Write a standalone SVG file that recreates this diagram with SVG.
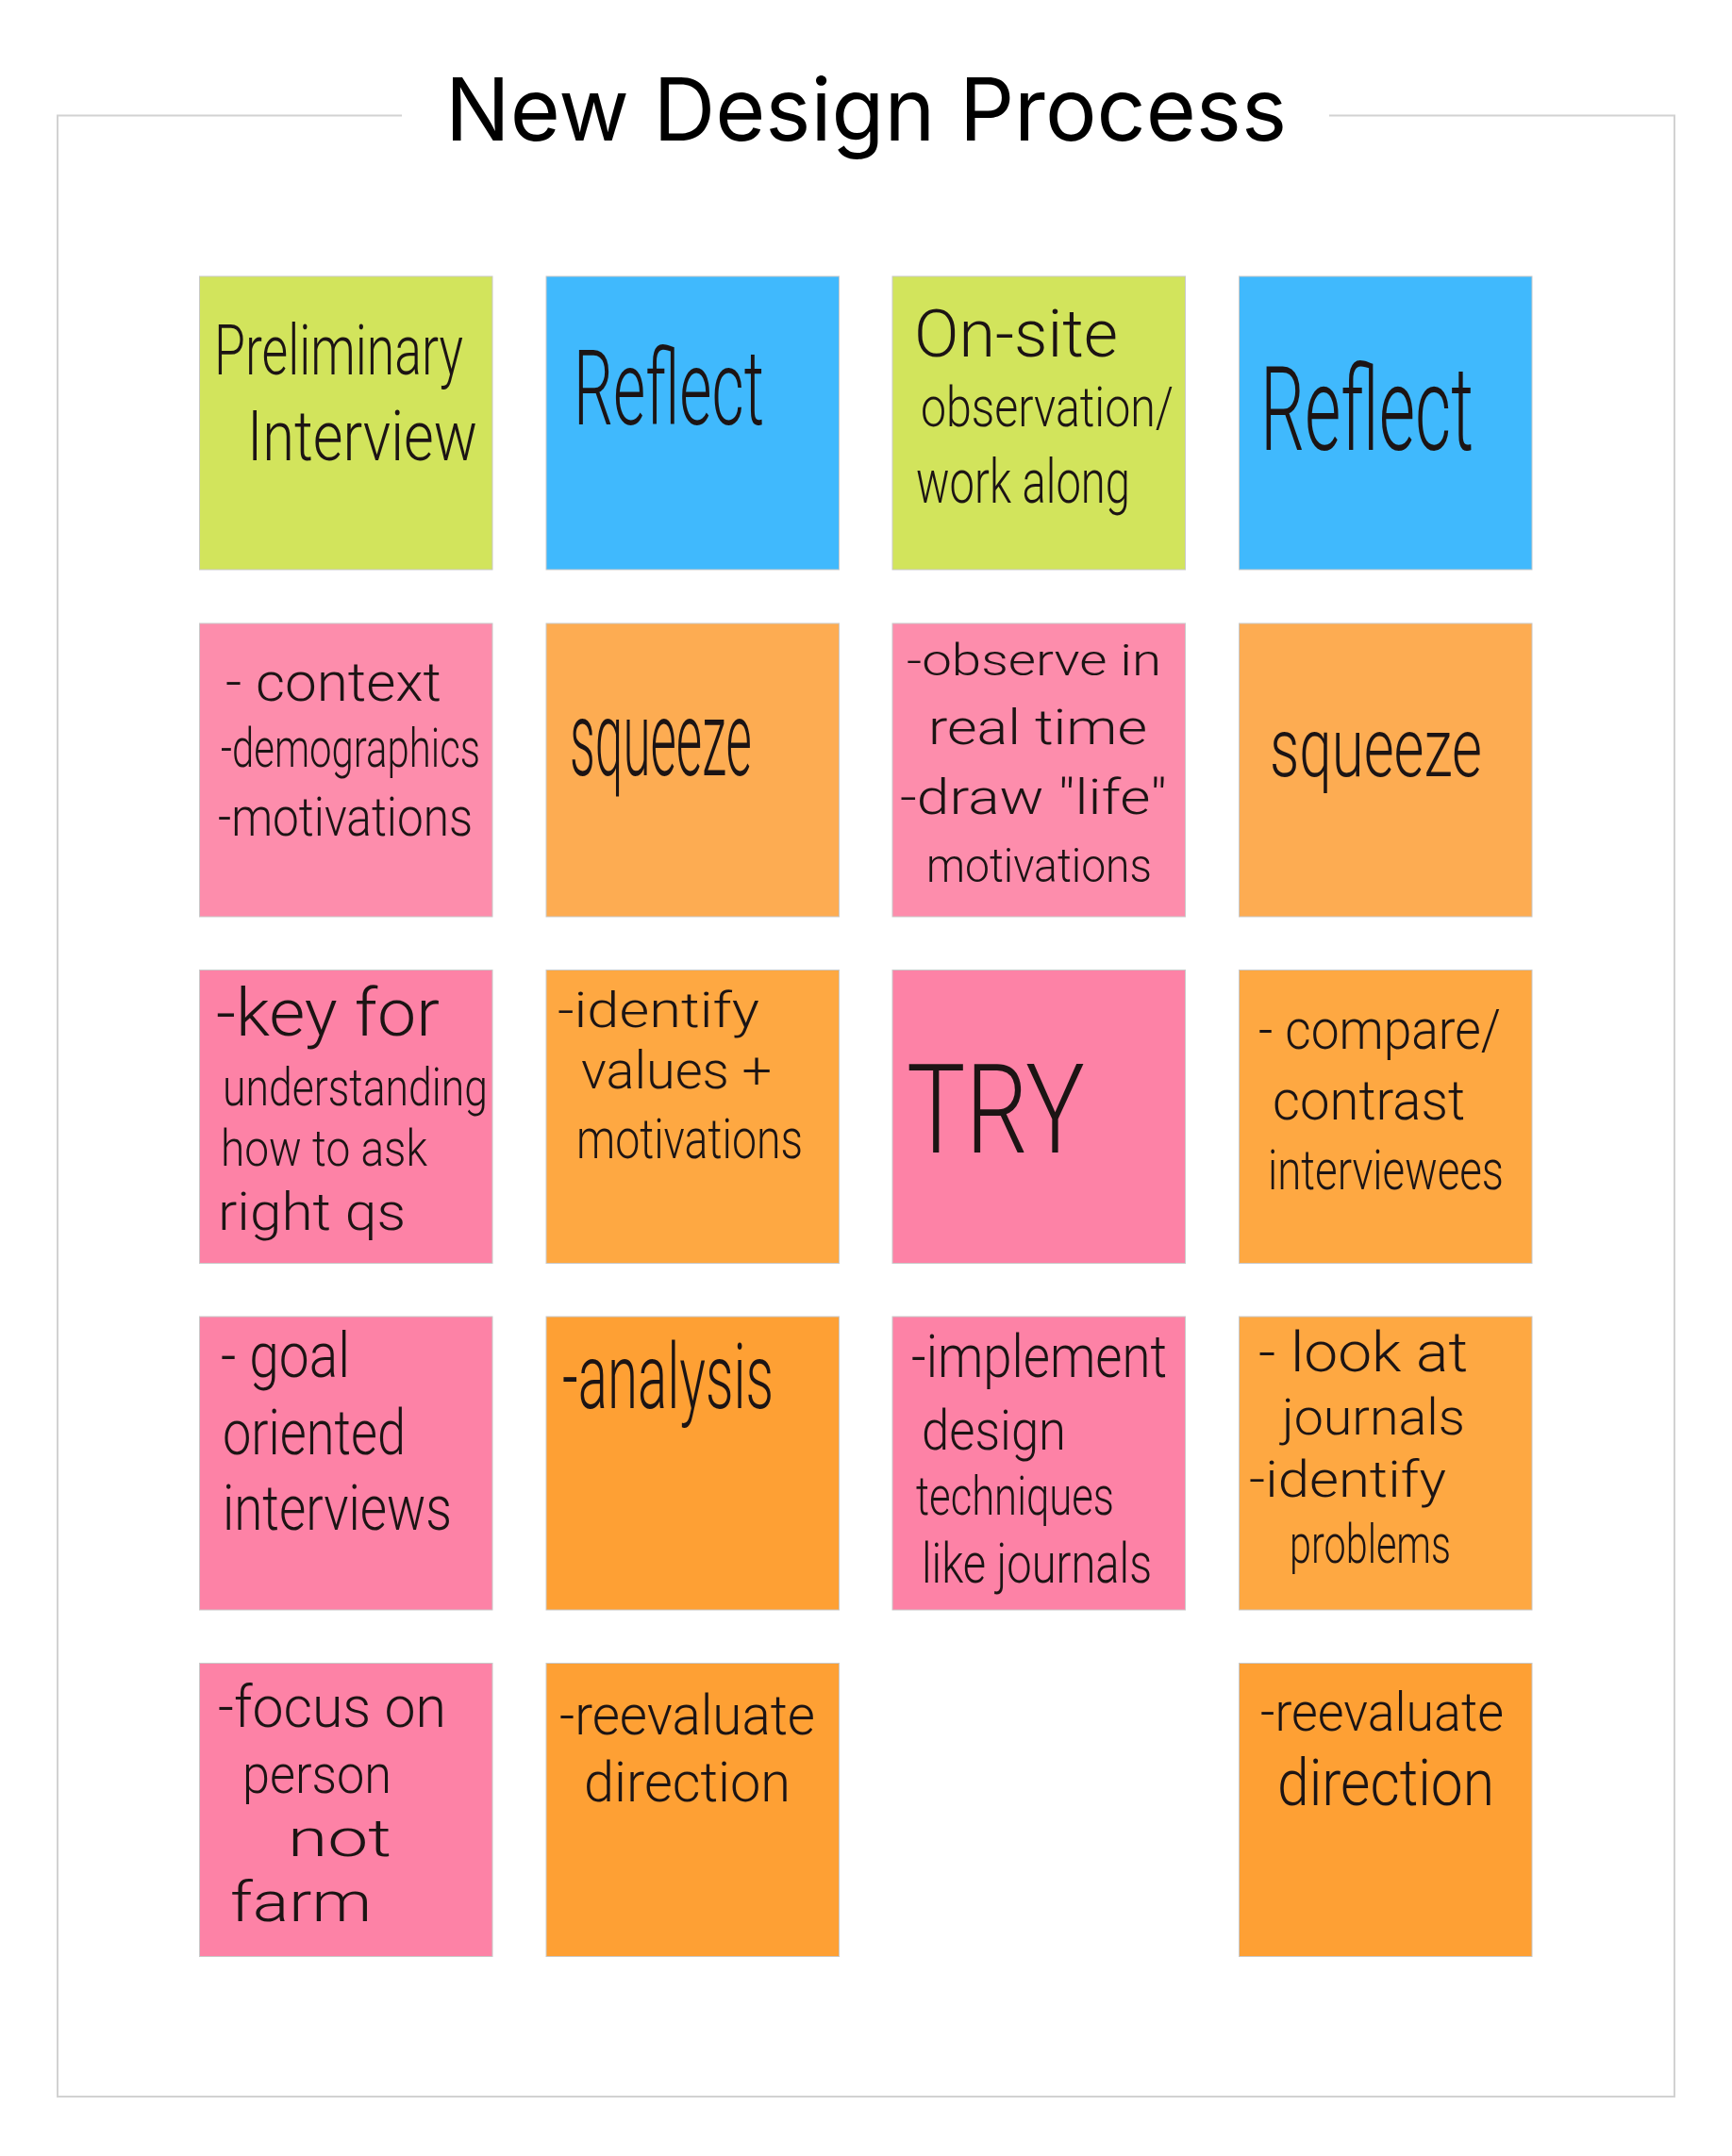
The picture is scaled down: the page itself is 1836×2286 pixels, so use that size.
<svg xmlns="http://www.w3.org/2000/svg" width="1836" height="2286" viewBox="0 0 1836 2286">
<style>
.n{stroke:#c9c9c9;stroke-width:1}
.g{fill:#d2e45c}.b{fill:#40b9fd}.p1{fill:#fd8dac}.p{fill:#fd82a6}
.o1{fill:#fdac52}.o{fill:#fea842}.o2{fill:#fea034}
.h{font-family:Roboto,"Open Sans","Liberation Sans",sans-serif;font-weight:300;fill:#1c1414}
.t{font-family:Inter,"Liberation Sans",sans-serif;font-size:92px;fill:#000}
</style>
<rect width="1836" height="2286" fill="#fff"/>
<path d="M426,122.5 H61 V2223 H1775 V122.5 H1409" fill="none" stroke="#d2d2d2" stroke-width="2"/>
<text class="t" x="472" y="149" textLength="892" lengthAdjust="spacingAndGlyphs">New Design Process</text>
<g id="connectors"/>
<g id="n1"><rect class="n g" x="211.5" y="293" width="310.5" height="311"/>
<text class="h" x="227" y="397" font-size="75" textLength="264" lengthAdjust="spacingAndGlyphs">Preliminary</text>
<text class="h" x="262" y="488" font-size="75" textLength="244" lengthAdjust="spacingAndGlyphs">Interview</text></g>
<g id="n2"><rect class="n b" x="579" y="293" width="310.5" height="311"/>
<text class="h" x="608" y="450" font-size="112" textLength="202" lengthAdjust="spacingAndGlyphs">Reflect</text></g>
<g id="n3"><rect class="n g" x="946" y="293" width="310.5" height="311"/>
<text class="h" x="969" y="378" font-size="71" textLength="216" lengthAdjust="spacingAndGlyphs">On-site</text>
<text class="h" x="976" y="452" font-size="59" textLength="268" lengthAdjust="spacingAndGlyphs">observation/</text>
<text class="h" x="971" y="533" font-size="65" textLength="227" lengthAdjust="spacingAndGlyphs">work along</text></g>
<g id="n4"><rect class="n b" x="1313.5" y="293" width="310.5" height="311"/>
<text class="h" x="1336" y="477" font-size="124" textLength="226" lengthAdjust="spacingAndGlyphs">Reflect</text></g>

<g id="n5"><rect class="n p1" x="211.5" y="661" width="310.5" height="311"/>
<text class="h" x="239" y="743" font-size="58" textLength="229" lengthAdjust="spacingAndGlyphs">- context</text>
<text class="h" x="234" y="813" font-size="58" textLength="275" lengthAdjust="spacingAndGlyphs">-demographics</text>
<text class="h" x="231" y="886" font-size="58" textLength="270" lengthAdjust="spacingAndGlyphs">-motivations</text></g>
<g id="n6"><rect class="n o1" x="579" y="661" width="310.5" height="311"/>
<text class="h" x="604" y="822" font-size="112" textLength="193" lengthAdjust="spacingAndGlyphs">squeeze</text></g>
<g id="n7"><rect class="n p1" x="946" y="661" width="310.5" height="311"/>
<text class="h" x="961" y="716" font-size="46" textLength="270" lengthAdjust="spacingAndGlyphs">-observe in</text>
<text class="h" x="984" y="789" font-size="52" textLength="232" lengthAdjust="spacingAndGlyphs">real time</text>
<text class="h" x="954" y="863" font-size="52" textLength="283" lengthAdjust="spacingAndGlyphs">-draw "life"</text>
<text class="h" x="982" y="935" font-size="50" textLength="239" lengthAdjust="spacingAndGlyphs">motivations</text></g>
<g id="n8"><rect class="n o1" x="1313.5" y="661" width="310.5" height="311"/>
<text class="h" x="1346" y="823" font-size="88" textLength="225" lengthAdjust="spacingAndGlyphs">squeeze</text></g>

<g id="n9"><rect class="n p" x="211.5" y="1028.5" width="310.5" height="311"/>
<text class="h" x="229" y="1098" font-size="71" textLength="237" lengthAdjust="spacingAndGlyphs">-key for</text>
<text class="h" x="236" y="1172" font-size="55" textLength="281" lengthAdjust="spacingAndGlyphs">understanding</text>
<text class="h" x="234" y="1236" font-size="53" textLength="219" lengthAdjust="spacingAndGlyphs">how to ask</text>
<text class="h" x="231" y="1304" font-size="55" textLength="199" lengthAdjust="spacingAndGlyphs">right qs</text></g>
<g id="n10"><rect class="n o" x="579" y="1028.5" width="310.5" height="311"/>
<text class="h" x="591" y="1089" font-size="51" textLength="214" lengthAdjust="spacingAndGlyphs">-identify</text>
<text class="h" x="616" y="1154" font-size="55" textLength="202" lengthAdjust="spacingAndGlyphs">values +</text>
<text class="h" x="611" y="1228" font-size="59" textLength="240" lengthAdjust="spacingAndGlyphs">motivations</text></g>
<g id="n11"><rect class="n p" x="946" y="1028.5" width="310.5" height="311"/>
<text class="h" x="961" y="1222" font-size="132" textLength="189" lengthAdjust="spacingAndGlyphs">TRY</text></g>
<g id="n12"><rect class="n o" x="1313.5" y="1028.5" width="310.5" height="311"/>
<text class="h" x="1334" y="1112" font-size="60" textLength="257" lengthAdjust="spacingAndGlyphs">- compare/</text>
<text class="h" x="1349" y="1187" font-size="60" textLength="204" lengthAdjust="spacingAndGlyphs">contrast</text>
<text class="h" x="1344" y="1261" font-size="60" textLength="250" lengthAdjust="spacingAndGlyphs">interviewees</text></g>

<g id="n13"><rect class="n p" x="211.5" y="1396" width="310.5" height="311"/>
<text class="h" x="234" y="1460" font-size="67" textLength="137" lengthAdjust="spacingAndGlyphs">- goal</text>
<text class="h" x="236" y="1542" font-size="67" textLength="194" lengthAdjust="spacingAndGlyphs">oriented</text>
<text class="h" x="236" y="1622" font-size="67" textLength="243" lengthAdjust="spacingAndGlyphs">interviews</text></g>
<g id="n14"><rect class="n o2" x="579" y="1396" width="310.5" height="311"/>
<text class="h" x="596" y="1493" font-size="97" textLength="224" lengthAdjust="spacingAndGlyphs">-analysis</text></g>
<g id="n15"><rect class="n p" x="946" y="1396" width="310.5" height="311"/>
<text class="h" x="966" y="1460" font-size="63" textLength="271" lengthAdjust="spacingAndGlyphs">-implement</text>
<text class="h" x="977" y="1537" font-size="59" textLength="153" lengthAdjust="spacingAndGlyphs">design</text>
<text class="h" x="971" y="1606" font-size="58" textLength="210" lengthAdjust="spacingAndGlyphs">techniques</text>
<text class="h" x="977" y="1678" font-size="59" textLength="244" lengthAdjust="spacingAndGlyphs">like journals</text></g>
<g id="n16"><rect class="n o" x="1313.5" y="1396" width="310.5" height="311"/>
<text class="h" x="1334" y="1454" font-size="59" textLength="222" lengthAdjust="spacingAndGlyphs">- look at</text>
<text class="h" x="1359" y="1521" font-size="54" textLength="194" lengthAdjust="spacingAndGlyphs">journals</text>
<text class="h" x="1324" y="1587" font-size="54" textLength="209" lengthAdjust="spacingAndGlyphs">-identify</text>
<text class="h" x="1367" y="1657" font-size="57" textLength="171" lengthAdjust="spacingAndGlyphs">problems</text></g>

<g id="n17"><rect class="n p" x="211.5" y="1763.5" width="310.5" height="311"/>
<text class="h" x="231" y="1831" font-size="61" textLength="242" lengthAdjust="spacingAndGlyphs">-focus on</text>
<text class="h" x="257" y="1901" font-size="57" textLength="158" lengthAdjust="spacingAndGlyphs">person</text>
<text class="h" x="305" y="1968" font-size="55" textLength="110" lengthAdjust="spacingAndGlyphs">not</text>
<text class="h" x="244" y="2037" font-size="59" textLength="150" lengthAdjust="spacingAndGlyphs">farm</text></g>
<g id="n18"><rect class="n o2" x="579" y="1763.5" width="310.5" height="311"/>
<text class="h" x="593" y="1839" font-size="59" textLength="271" lengthAdjust="spacingAndGlyphs">-reevaluate</text>
<text class="h" x="619" y="1910" font-size="59" textLength="219" lengthAdjust="spacingAndGlyphs">direction</text></g>
<g id="n20"><rect class="n o2" x="1313.5" y="1763.5" width="310.5" height="311"/>
<text class="h" x="1336" y="1835" font-size="57" textLength="258" lengthAdjust="spacingAndGlyphs">-reevaluate</text>
<text class="h" x="1354" y="1914" font-size="69" textLength="230" lengthAdjust="spacingAndGlyphs">direction</text></g>
</svg>
